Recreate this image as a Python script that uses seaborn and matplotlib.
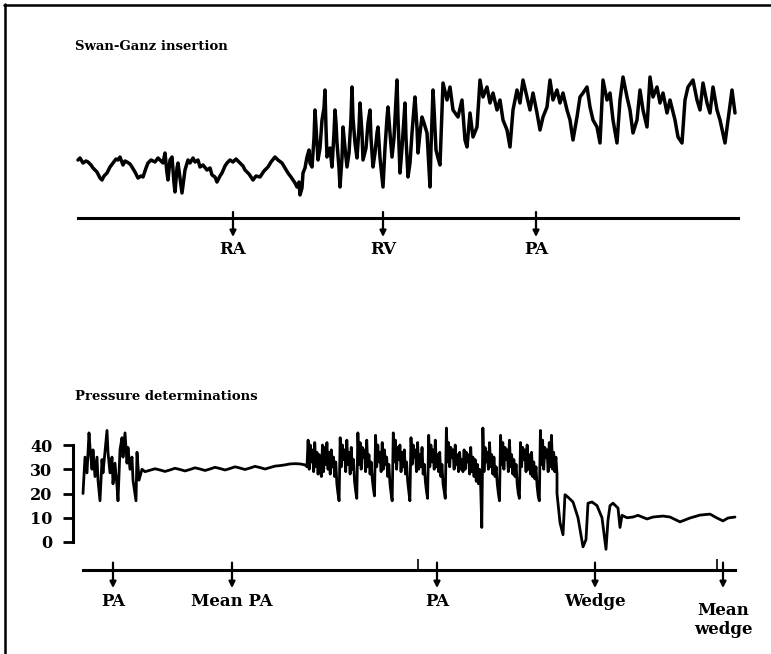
import numpy as np
import pandas as pd
import matplotlib
matplotlib.use("Agg")
import matplotlib.pyplot as plt
from matplotlib.lines import Line2D
import seaborn as sns

# ---------------- data ----------------
# Top trace (Swan-Ganz insertion), arbitrary pressure units, time in chart units
ra_t = [78, 80, 83, 86, 88, 91, 93, 97, 100, 102, 104, 107, 110, 113, 116, 118, 120, 123, 125, 127,
        130, 132, 135, 138, 141, 143, 146, 148, 151, 155, 158, 160, 163, 165, 167, 168, 170, 172, 174, 175,
        177, 178, 180, 182, 184, 185, 188, 190, 193, 195, 198, 200, 203, 207, 210, 212, 215, 217, 220, 222,
        225, 227, 230, 233, 236, 240, 243, 245, 249, 253, 256, 260, 264, 268, 271, 275, 278, 282, 285, 288,
        291, 293, 295, 297, 299, 300, 302, 303, 305, 307, 309]
ra_v = [58, 60, 55, 57, 56, 53, 50, 46, 40, 38, 42, 45, 51, 55, 59, 58, 61, 53, 57, 56,
        54, 51, 46, 40, 42, 41, 50, 55, 58, 56, 60, 58, 55, 65, 45, 38, 58, 61, 35, 26,
        50, 55, 40, 25, 40, 48, 58, 55, 60, 56, 58, 51, 53, 48, 50, 43, 41, 36, 42, 45,
        52, 55, 58, 56, 59, 55, 52, 48, 44, 38, 42, 41, 47, 51, 56, 61, 58, 55, 50, 45,
        41, 38, 35, 31, 36, 23, 30, 45, 50, 61, 68]
rv_t = [310, 312, 314, 315, 317, 318, 320, 322, 324, 325, 326, 327, 330, 332, 334, 335, 336, 337, 339, 340,
        342, 343, 345, 347, 349, 351, 352, 353, 355, 357, 359, 360, 362, 363, 366, 368, 370, 371, 373, 375,
        377, 378, 380, 382, 383, 385, 387, 388, 390, 392, 394, 396, 397, 398, 400, 402, 404, 405, 406, 408,
        410, 412, 414, 415, 417, 418, 420, 422, 424, 427, 429, 430, 431, 433, 434, 436, 438, 440]
rv_v = [55, 51, 80, 108, 75, 58, 70, 98, 110, 128, 90, 61, 70, 51, 85, 108, 95, 75, 50, 31,
        60, 91, 70, 51, 65, 100, 131, 100, 75, 60, 90, 115, 85, 58, 70, 95, 108, 80, 51, 65,
        85, 91, 60, 40, 31, 70, 100, 111, 85, 61, 80, 120, 138, 100, 45, 70, 100, 115, 80, 41,
        55, 85, 110, 121, 90, 65, 85, 101, 95, 85, 50, 31, 70, 128, 110, 68, 60, 53]
pa_top_t = [443, 447, 450, 453, 458, 462, 465, 467, 470, 473, 477, 480, 483, 487, 490, 493, 497, 500, 503, 507,
            510, 513, 517, 520, 523, 527, 530, 533, 537, 540, 543, 547, 550, 553, 557, 560, 563, 567, 570, 573,
            577, 580, 583, 587, 590, 593, 597, 600, 603, 607, 610, 613, 617, 620, 623, 627, 630, 633, 637, 640,
            643, 647, 650, 653, 657, 660, 663, 667, 670, 675, 678, 682, 685, 688, 693, 697, 700, 703, 707, 710,
            713, 717, 720, 725, 728, 732, 735]
pa_top_v = [135, 118, 131, 108, 101, 118, 78, 71, 105, 81, 91, 138, 121, 131, 115, 125, 108, 118, 98, 88,
            71, 108, 128, 115, 138, 121, 108, 125, 105, 88, 101, 111, 138, 118, 128, 115, 125, 108, 98, 78,
            101, 121, 125, 131, 111, 98, 91, 75, 138, 118, 125, 98, 75, 118, 141, 121, 108, 85, 98, 128,
            108, 91, 141, 121, 131, 115, 125, 105, 118, 98, 81, 75, 118, 131, 138, 118, 108, 135, 115, 105,
            131, 108, 98, 75, 98, 128, 105]
top_labels = ["RA", "RV", "PA"]
top_label_t = [233, 383, 536]

# Bottom trace (Pressure determinations), mmHg
pa1_t = [83, 85, 87, 89, 90, 92, 93, 95, 97, 98, 100, 102, 103, 107, 108, 110, 112, 113, 115, 117,
         118, 120, 122, 123, 125, 127, 128, 130, 132, 133, 136, 137, 139, 142]
pa1_v = [20, 35, 28.5, 45, 39, 30, 38, 27, 35, 25.5, 17, 34, 28.5, 46, 37, 28.5, 35, 24, 32.5, 23,
         17, 38, 43, 35, 45, 32.5, 39, 30, 35, 25.5, 17, 37, 25.5, 30]
mean_pa_t = [145, 150, 155, 160, 165, 170, 175, 180, 185, 190, 195, 200, 205, 210, 215, 220, 225, 230,
             235, 240, 245, 250, 255, 260, 265, 270, 275, 280, 285, 290, 295, 300, 305]
mean_pa_v = [29.0, 29.6, 30.2, 29.7, 29.1, 29.7, 30.4, 29.9, 29.3, 29.9, 30.6, 30.1, 29.5, 30.1, 30.8,
             30.3, 29.7, 30.3, 31.0, 30.5, 29.9, 30.5, 31.2, 30.7, 30.1, 30.7, 31.3, 31.5, 31.8, 32.2,
             32.3, 32.2, 31.8]
pa2_start, pa2_end = 307, 557
pa2_v = [31, 42, 30, 40, 33, 38, 29, 41, 31, 37, 28, 36, 30, 27,
         40, 29, 39, 32, 41, 30, 37, 28, 38, 31, 35, 27, 33, 24, 20, 17,
         43, 31, 40, 34, 38, 29, 42, 32, 37, 28, 39, 30, 34, 25, 21, 18,
         45, 32, 41, 30, 39, 35, 38, 29, 42, 31, 36, 28, 33, 26, 22, 19,
         44, 31, 40, 33, 37, 29, 41, 30, 38, 32, 35, 27, 32, 24, 20, 17,
         45, 33, 42, 30, 39, 34, 40, 29, 37, 31, 38, 28, 33, 25, 21, 17,
         43, 32, 40, 35, 38, 29, 41, 30, 36, 31, 39, 28, 32, 25, 21, 18,
         44, 31, 40, 33, 38, 30, 42, 31, 36, 29, 37, 27, 32, 24, 21, 18,
         47, 33, 41, 31, 39, 35, 38, 30, 40, 32, 36, 29, 37, 30, 34, 29,
         38, 30, 37, 33, 36, 28, 39, 29, 35, 27, 34, 25, 32, 24, 30, 23, 6,
         47, 29, 39, 33, 37, 30, 41, 31, 36, 28, 35, 27, 31, 24, 20, 17,
         44, 32, 41, 30, 39, 34, 38, 29, 42, 31, 36, 28, 34, 27, 32, 24, 20, 18,
         41, 31, 39, 34, 38, 29, 40, 30, 36, 28, 37, 27, 33, 26, 31, 23, 19, 17,
         46, 32, 42, 30, 39, 35, 38, 29, 41, 31, 44, 30, 37, 29, 35, 28]
wedge_t = [557, 560, 563, 565, 568, 573, 578, 583, 586, 588, 592, 597, 602, 606, 608, 610, 613, 618, 620, 622,
           627, 633, 638, 647, 653, 663, 670, 680, 690, 700, 710, 717, 723, 728, 735]
wedge_v = [20, 8, 3, 19.5, 18.5, 16.5, 10, -2, 1, 16, 16.5, 15, 10, -3, 9, 15, 16, 14, 6, 11,
           10, 10.3, 11, 9.5, 10.3, 10.7, 10.3, 8.3, 9.9, 11.1, 11.5, 9.9, 8.7, 9.9, 10.3]
bottom_labels = ["PA", "Mean PA", "PA", "Wedge", "Mean\nwedge"]
bottom_label_t = [113, 232, 437, 595, 723]
y_ticks = [0, 10, 20, 30, 40]
event_marks_t = [418, 717]

# ---------------- figure ----------------
sns.set_theme(style="white")
plt.rcParams['font.family'] = ['DejaVu Serif']

W, H = 771, 654
fig = plt.figure(figsize=(W / 100, H / 100), dpi=100)
fig.patch.set_facecolor("white")


def px_axes(x0, y0, x1, y1):
    return fig.add_axes([x0 / W, 1 - y1 / H, (x1 - x0) / W, (y1 - y0) / H])


# frame lines (top & left)
fig.add_artist(Line2D([5 / W, 5 / W], [0, 1 - 4 / H], color="black", lw=1.8))
fig.add_artist(Line2D([4 / W, 1], [1 - 5 / H, 1 - 5 / H], color="black", lw=1.8))

# ---- top panel ----
ax1 = px_axes(0, 60, W, 240)
ax1.set_facecolor("none")
top_df = pd.DataFrame({"t": ra_t + rv_t + pa_top_t, "p": ra_v + rv_v + pa_top_v})
sns.lineplot(data=top_df, x="t", y="p", ax=ax1, color="black", lw=2.5, sort=False, estimator=None)
ax1.set_xlim(0, W)
ax1.set_ylim(-22, 158)
for s in ["top", "right", "left"]:
    ax1.spines[s].set_visible(False)
ax1.spines["bottom"].set_position(("data", 0))
ax1.spines["bottom"].set_bounds(78, 738)
ax1.spines["bottom"].set_linewidth(2.2)
ax1.spines["bottom"].set_color("black")
ax1.set_xticks([])
ax1.set_yticks([])
ax1.set_xlabel("")
ax1.set_ylabel("")
for lab, t in zip(top_labels, top_label_t):
    ax1.annotate("", xy=(t, -19), xytext=(t, 6),
                 arrowprops=dict(arrowstyle="-|>", lw=1.6, color="black", mutation_scale=9,
                                 shrinkA=0, shrinkB=0))
    ax1.text(t, -32, lab, ha="center", va="center", fontsize=12, fontweight="bold", color="black")
fig.text(75 / W, 1 - 47 / H, "Swan-Ganz insertion", ha="left", va="center",
         fontsize=9.5, fontweight="bold", color="black")

# ---- bottom panel ----
ax2 = px_axes(0, 420, W, 600)
ax2.set_facecolor("none")
pa2_t = np.linspace(pa2_start, pa2_end, len(pa2_v))
bot_df = pd.DataFrame({
    "t": list(pa1_t) + list(mean_pa_t) + list(pa2_t) + list(wedge_t),
    "p": list(pa1_v) + list(mean_pa_v) + list(pa2_v) + list(wedge_v),
})
sns.lineplot(data=bot_df, x="t", y="p", ax=ax2, color="black", lw=2.0, sort=False, estimator=None)
ax2.set_xlim(0, W)
ax2.set_ylim((542 - 600) / 2.425, (542 - 420) / 2.425)
for s in ["top", "right"]:
    ax2.spines[s].set_visible(False)
ax2.spines["left"].set_position(("data", 73))
ax2.spines["left"].set_bounds(0, 40)
ax2.spines["left"].set_linewidth(2.2)
ax2.spines["left"].set_color("black")
ax2.spines["bottom"].set_position(("data", -11.5))
ax2.spines["bottom"].set_bounds(83, 735)
ax2.spines["bottom"].set_linewidth(2.2)
ax2.spines["bottom"].set_color("black")
ax2.set_xticks([])
ax2.set_yticks(y_ticks)
ax2.set_yticklabels([str(v) for v in y_ticks], fontsize=11.5, fontweight="bold")
ax2.tick_params(axis="y", direction="out", length=7, width=2.0, pad=8, left=True, colors="black")
ax2.set_xlabel("")
ax2.set_ylabel("")
ax2.vlines(event_marks_t, -11.5, -7, color="black", lw=1.2)
for lab, t in zip(bottom_labels, bottom_label_t):
    ax2.annotate("", xy=(t, -19), xytext=(t, -8.5),
                 arrowprops=dict(arrowstyle="-|>", lw=1.6, color="black", mutation_scale=9,
                                 shrinkA=0, shrinkB=0))
    ax2.text(t, -24.7, lab, ha="center", va="top" if "\n" in lab else "center",
             fontsize=12, fontweight="bold", color="black", linespacing=1.2)
fig.text(75 / W, 1 - 397 / H, "Pressure determinations", ha="left", va="center",
         fontsize=9.5, fontweight="bold", color="black")

fig.savefig("out.png", dpi=100, facecolor="white")
